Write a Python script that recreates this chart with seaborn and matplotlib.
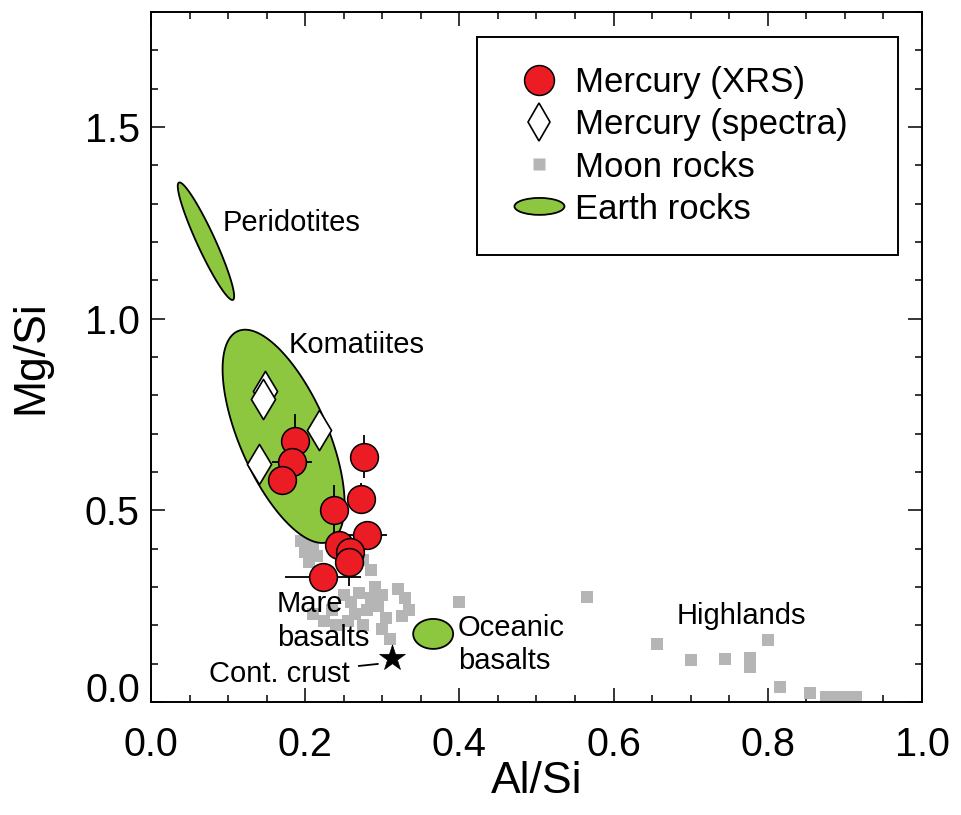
import numpy as np
import pandas as pd
import matplotlib
matplotlib.use("Agg")
import matplotlib.pyplot as plt
import seaborn as sns
from matplotlib.patches import Polygon, Ellipse
from matplotlib.lines import Line2D
from matplotlib.legend_handler import HandlerPatch
from matplotlib.ticker import MultipleLocator

# ---------------- data ----------------
xrs_al_si = [0.187, 0.183, 0.170, 0.276, 0.272, 0.237, 0.280, 0.244, 0.258, 0.257, 0.223]
xrs_mg_si = [0.680, 0.625, 0.580, 0.640, 0.530, 0.500, 0.435, 0.410, 0.390, 0.365, 0.327]
xrs_al_err = [0.015, 0.026, 0.015, 0.015, 0.015, 0.015, 0.026, 0.015, 0.015, 0.015, 0.049]
xrs_mg_err = [0.070, 0.030, 0.030, 0.057, 0.040, 0.065, 0.030, 0.030, 0.030, 0.063, 0.030]

spec_al_si = [0.148, 0.145, 0.218, 0.140]
spec_mg_si = [0.810, 0.790, 0.710, 0.620]

moon_al_si = [0.195, 0.200, 0.210, 0.205, 0.215, 0.275, 0.285,
              0.290, 0.300, 0.295, 0.305, 0.300, 0.310, 0.285,
              0.250, 0.260, 0.270, 0.265, 0.255, 0.275, 0.280,
              0.210, 0.225, 0.235, 0.240,
              0.320, 0.330, 0.335, 0.325, 0.400,
              0.565, 0.656, 0.700, 0.745, 0.777, 0.777, 0.800, 0.816,
              0.855, 0.875, 0.890, 0.905, 0.915]
moon_mg_si = [0.420, 0.390, 0.410, 0.365, 0.380, 0.370, 0.345,
              0.300, 0.280, 0.250, 0.220, 0.190, 0.165, 0.270,
              0.280, 0.260, 0.285, 0.230, 0.210, 0.200, 0.240,
              0.230, 0.210, 0.240, 0.200,
              0.295, 0.270, 0.240, 0.225, 0.260,
              0.275, 0.150, 0.110, 0.112, 0.115, 0.090, 0.162, 0.040,
              0.023, 0.012, 0.012, 0.012, 0.012]

crust_al_si = [0.312]
crust_mg_si = [0.115]

earth_names = ["Peridotites", "Komatiites", "Oceanic basalts"]
earth_cx = [0.0713, 0.172, 0.366]
earth_cy = [1.202, 0.693, 0.1775]
earth_ux = [-0.035, -0.0593, 0.0259]   # half major axis (data units)
earth_uy = [0.153, 0.2744, 0.0]
earth_ratio = [0.14, 0.384, 0.75]      # minor / major

legend_labels = ["Mercury (XRS)", "Mercury (spectra)", "Moon rocks", "Earth rocks"]

# ---------------- style ----------------
sns.set_style("ticks")
plt.rcParams["font.family"] = ["Liberation Sans", "DejaVu Sans"]
plt.rcParams["text.color"] = "black"
plt.rcParams["axes.labelcolor"] = "black"
plt.rcParams["xtick.color"] = "black"
plt.rcParams["ytick.color"] = "black"

RED = "#ec1c24"
GREEN = "#8dc63f"
GRAY = "#b5b5b5"

fig = plt.figure(figsize=(9.61, 8.15), dpi=100)
ax = fig.add_axes([0.1571, 0.1387, 0.8023, 0.8466])
ax.set_xlim(0.0, 1.0)
ax.set_ylim(0.0, 1.8)

# moon rocks
moon = pd.DataFrame({"x": moon_al_si, "y": moon_mg_si})
sns.scatterplot(data=moon, x="x", y="y", marker="s", s=76, color=GRAY,
                linewidth=0, ax=ax, zorder=2)

# earth rocks ellipses
sx = ax.bbox.width / 1.0
sy = ax.bbox.height / 1.8
t = np.linspace(0, 2 * np.pi, 200)
for cx, cy, ux, uy, r in zip(earth_cx, earth_cy, earth_ux, earth_uy, earth_ratio):
    upx, upy = ux * sx, uy * sy
    vpx, vpy = -upy * r, upx * r
    vx, vy = vpx / sx, vpy / sy
    xs = cx + np.cos(t) * ux + np.sin(t) * vx
    ys = cy + np.cos(t) * uy + np.sin(t) * vy
    ax.add_patch(Polygon(np.column_stack([xs, ys]), closed=True,
                         facecolor=GREEN, edgecolor="black", lw=1.3, zorder=3))

# spectra diamonds
spec = pd.DataFrame({"x": spec_al_si, "y": spec_mg_si})
sns.scatterplot(data=spec, x="x", y="y", marker="d", s=420, color="white",
                edgecolor="black", linewidth=1.2, ax=ax, zorder=4)

# XRS error bars + circles
ax.errorbar(xrs_al_si, xrs_mg_si, xerr=xrs_al_err, yerr=xrs_mg_err, fmt="none",
            ecolor="black", elinewidth=1.3, capsize=0, zorder=5)
xrs = pd.DataFrame({"x": xrs_al_si, "y": xrs_mg_si})
sns.scatterplot(data=xrs, x="x", y="y", marker="o", s=400, color=RED,
                edgecolor="black", linewidth=1.1, ax=ax, zorder=6)

# continental crust star
crust = pd.DataFrame({"x": crust_al_si, "y": crust_mg_si})
sns.scatterplot(data=crust, x="x", y="y", marker="*", s=380, color="black",
                edgecolor="black", linewidth=0.5, ax=ax, zorder=6)

# labels
tfs = 21
ax.text(0.093, 1.250, "Peridotites", fontsize=tfs, ha="left", va="center", zorder=7)
ax.text(0.178, 0.930, "Komatiites", fontsize=tfs, ha="left", va="center", zorder=7)
ax.text(0.163, 0.210, "Mare\nbasalts", fontsize=tfs, ha="left", va="center",
        linespacing=1.27, zorder=7)
ax.text(0.398, 0.149, "Oceanic\nbasalts", fontsize=tfs, ha="left", va="center",
        linespacing=1.22, zorder=7)
ax.text(0.682, 0.223, "Highlands", fontsize=tfs, ha="left", va="center", zorder=7)
ax.annotate("Cont. crust", xy=(0.2944, 0.0992), xytext=(0.258, 0.072),
            fontsize=tfs, ha="right", va="center", zorder=7,
            arrowprops=dict(arrowstyle="-", lw=1.3, color="black",
                            shrinkA=4, shrinkB=0))

# axes
ax.set_xlabel("Al/Si", fontsize=32, labelpad=-2)
ax.set_ylabel("Mg/Si", fontsize=32, labelpad=24)
ax.set_xticks([0.0, 0.2, 0.4, 0.6, 0.8, 1.0])
ax.set_yticks([0.0, 0.5, 1.0, 1.5])
ax.set_xticklabels(["0.0", "0.2", "0.4", "0.6", "0.8", "1.0"])
ax.set_yticklabels(["0.0", "0.5", "1.0", "1.5"])
ax.xaxis.set_minor_locator(MultipleLocator(0.05))
ax.yaxis.set_minor_locator(MultipleLocator(0.1))
ax.tick_params(which="both", direction="in", top=True, right=True, width=1.1,
               color="black", labelcolor="black")
ax.tick_params(which="major", length=10, labelsize=28.5)
ax.tick_params(which="minor", length=4.7)
ax.tick_params(axis="x", which="major", pad=17)
ax.tick_params(axis="y", which="major", pad=8)
for s in ax.spines.values():
    s.set_visible(True)
    s.set_linewidth(1.4)
    s.set_color("black")
ax.yaxis.get_major_ticks()[0].label1.set_va("baseline")


# legend
class HandlerEllipse(HandlerPatch):
    def create_artists(self, legend, orig_handle, xdescent, ydescent, width,
                       height, fontsize, trans):
        cx = 0.5 * width - xdescent
        cy = 0.5 * height - ydescent
        p = Ellipse(xy=(cx, cy), width=36, height=12.2)
        self.update_prop(p, orig_handle, legend)
        p.set_transform(trans)
        return [p]


h_xrs = Line2D([], [], ls="none", marker="o", ms=21.5, mfc=RED, mec="black", mew=1.1)
h_spec = Line2D([], [], ls="none", marker="d", ms=19, mfc="white", mec="black", mew=1.2)
h_moon = Line2D([], [], ls="none", marker="s", ms=8.5, mfc=GRAY, mec="none")
h_earth = Ellipse((0, 0), 1, 1, facecolor=GREEN, edgecolor="black", lw=1.3)
leg = ax.legend([h_xrs, h_spec, h_moon, h_earth], legend_labels,
                handler_map={Ellipse: HandlerEllipse()},
                loc="upper left", bbox_to_anchor=(0.4228, 0.5, 0.546, 0.4638),
                mode="expand", borderaxespad=0, fontsize=25, frameon=True,
                fancybox=False, framealpha=1, edgecolor="black",
                handlelength=1.9, handletextpad=0.08, borderpad=0.85,
                labelspacing=0.26)
leg.get_frame().set_linewidth(1.4)
leg.set_zorder(10)

fig.savefig("out.png", dpi=100)
